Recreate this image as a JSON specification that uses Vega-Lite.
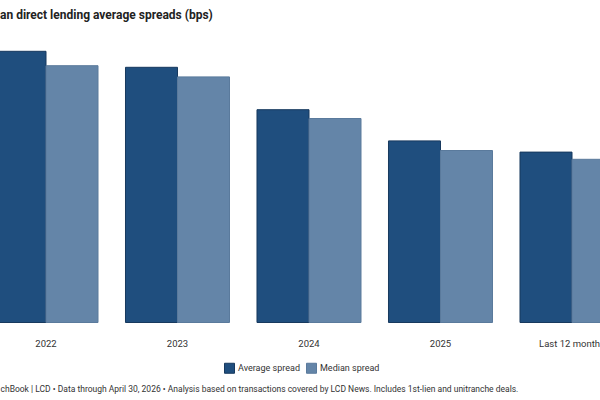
{
  "$schema": "https://vega.github.io/schema/vega-lite/v6.json",
  "autosize": "none",
  "width": 600,
  "height": 288,
  "padding": {"left": 0, "top": 34.5, "right": 0, "bottom": 77.5},
  "background": "white",
  "title": {
    "text": "an direct lending average spreads (bps)",
    "anchor": "start",
    "frame": "group",
    "font": "Roboto",
    "fontSize": 12,
    "fontWeight": "bold",
    "color": "#222222",
    "baseline": "alphabetic",
    "offset": 4
  },
  "data": {
    "values": [
      {"period": "2022", "series": "Average spread", "bps": 639},
      {"period": "2022", "series": "Median spread", "bps": 621},
      {"period": "2023", "series": "Average spread", "bps": 619},
      {"period": "2023", "series": "Median spread", "bps": 607},
      {"period": "2024", "series": "Average spread", "bps": 566},
      {"period": "2024", "series": "Median spread", "bps": 555},
      {"period": "2025", "series": "Average spread", "bps": 527},
      {"period": "2025", "series": "Median spread", "bps": 515},
      {"period": "Last 12 months", "series": "Average spread", "bps": 513},
      {"period": "Last 12 months", "series": "Median spread", "bps": 504}
    ]
  },
  "mark": {"type": "bar", "strokeWidth": 1},
  "encoding": {
    "x": {
      "field": "period",
      "type": "nominal",
      "sort": null,
      "scale": {"range": [-19.75, 637.75], "paddingInner": 0.209, "paddingOuter": 0.1045},
      "axis": {
        "title": "chBook | LCD • Data through April 30, 2026 • Analysis based on transactions covered by LCD News. Includes 1st-lien and unitranche deals.",
        "titleFont": "Roboto",
        "titleFontSize": 8.5,
        "titleFontWeight": "normal",
        "titleColor": "#333333",
        "titleAnchor": "start",
        "titleAlign": "left",
        "titleBaseline": "alphabetic",
        "titleX": 0,
        "titleY": 68.5,
        "labelAngle": 0,
        "labelFont": "Roboto",
        "labelFontSize": 9.5,
        "labelColor": "#333333",
        "labelPadding": 16,
        "domain": false,
        "ticks": false,
        "grid": false
      }
    },
    "xOffset": {"field": "series", "type": "nominal", "sort": ["Average spread", "Median spread"]},
    "y": {
      "field": "bps",
      "type": "quantitative",
      "scale": {"domain": [300, 660], "zero": false},
      "axis": null
    },
    "y2": {"datum": 300},
    "fill": {
      "field": "series",
      "type": "nominal",
      "sort": ["Average spread", "Median spread"],
      "scale": {"domain": ["Average spread", "Median spread"], "range": ["#1f4e7e", "#6485a8"]},
      "legend": {
        "title": null,
        "orient": "none",
        "legendX": 224,
        "legendY": 328,
        "direction": "horizontal",
        "symbolType": "square",
        "symbolSize": 100,
        "symbolStrokeWidth": 1,
        "symbolStrokeColor": "#1a3550",
        "labelFont": "Roboto",
        "labelFontSize": 9,
        "labelColor": "#333333",
        "columnPadding": 4,
        "labelOffset": 3
      }
    },
    "stroke": {
      "field": "series",
      "type": "nominal",
      "scale": {"domain": ["Average spread", "Median spread"], "range": ["#17395e", "#5a7a9c"]},
      "legend": null
    }
  },
  "config": {
    "view": {"stroke": null}
  }
}
